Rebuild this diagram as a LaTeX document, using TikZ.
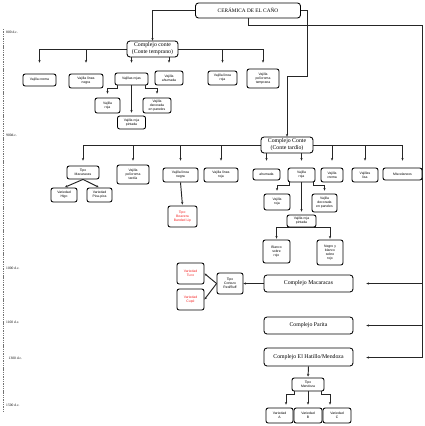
\documentclass[tikz,border=0pt]{standalone}
\usepackage{fontspec}
\setmainfont{Liberation Serif}
\newfontfamily\sansf{Liberation Sans}
\usetikzlibrary{arrows.meta,calc}
\pgfdeclarelayer{bg}
\pgfsetlayers{bg,main}
\definecolor{redtxt}{RGB}{245,35,35}
\begin{document}
\begin{tikzpicture}[x=1pt,y=-1pt,
  box/.style={draw=black, line width=0.85pt, rounded corners=2.2pt, fill=white, align=center,
    inner sep=0pt, font=\sansf\fontsize{3.4}{4.1}\selectfont, text=black},
  big/.style={box, rounded corners=3pt, font=\fontsize{5.8}{7}\selectfont, text=black},
  redbox/.style={box, text=redtxt},
  conn/.style={draw=black!85, line width=0.95pt},
  arr/.style={conn, -{Stealth[length=2.6pt,width=2.4pt]}},
  tl/.style={anchor=west, inner sep=0pt, font=\fontsize{3.6}{4}\selectfont}]
\useasboundingbox (0,0) rectangle (425,426);

% timeline
\coordinate (tlA) at (3.5,29);
\coordinate (tlB) at (3.5,411);
\draw[black!55, line width=1.6pt, dash pattern=on 1.4pt off 0.9pt] (tlA) -- (tlB);
\node[tl] (t1) at (6,32) {800 d.c.};
\node[tl] (t2) at (6,135) {900d.c.};
\node[tl] (t3) at (6,268) {1000 d.c.};
\node[tl] (t4) at (6,322) {1100 d.c.};
\node[tl] (t5) at (8.5,358) {1300 d.c.};
\node[tl] (t6) at (6,405) {1500 d.c.};

% main boxes
\node[big, minimum width=105, minimum height=15, font=\fontsize{5.3}{6}\selectfont] (top) at (248,10.5) {CERÁMICA DE EL CAÑO};
\node[big, minimum width=51, minimum height=16] (ct) at (152.5,49) {Complejo conte\\(Conte temprano)};
\node[big, minimum width=52, minimum height=16] (ctd) at (287,145) {Complejo Conte\\(Conte tardío)};
\node[big, minimum width=89, minimum height=17] (mac) at (308.5,283.5) {Complejo Macaracas};
\node[big, minimum width=89, minimum height=17] (par) at (308.5,325.5) {Complejo Parita};
\node[big, minimum width=89, minimum height=18] (hat) at (308.5,357) {Complejo El Hatillo/Mendoza};

% row 1
\node[box, minimum width=33, minimum height=12] (v1) at (39.5,80) {Vajilla crema};
\node[box, minimum width=34, minimum height=14] (v2) at (86,81) {Vajilla línea\\negra};
\node[box, minimum width=33, minimum height=12] (v3) at (131.5,79) {Vajillas rojas};
\node[box, minimum width=28, minimum height=14] (v4) at (169,78) {Vajilla\\ahumada};
\node[box, minimum width=29, minimum height=14] (v5) at (222.5,78) {Vajilla línea\\roja};
\node[box, minimum width=32, minimum height=19] (v6) at (263,78.5) {Vajilla\\polícroma\\temprana};
\node[box, minimum width=25, minimum height=15] (v3a) at (107.5,105.5) {Vajilla\\roja};
\node[box, minimum width=28, minimum height=13] (v3b) at (131.5,122.5) {Vajilla roja\\pintada};
\node[box, minimum width=28, minimum height=15] (v3c) at (157,105.5) {Vajilla\\decorada\\en paneles};

% row 2
\node[box, minimum width=32, minimum height=13] (w1) at (83,172.5) {Tipo\\Macaracas};
\node[box, minimum width=32, minimum height=19] (w2) at (133,174.5) {Vajilla\\polícroma\\tardía};
\node[box, minimum width=35, minimum height=14] (w3) at (180.5,175) {Vajilla línea\\negra};
\node[box, minimum width=34, minimum height=14] (w4) at (221,175) {Vajilla línea\\roja};
\node[box, minimum width=27, minimum height=11] (w5) at (266.5,174.5) {ahumada};
\node[box, minimum width=27, minimum height=14] (w6) at (301.5,175) {Vajilla\\roja};
\node[box, minimum width=22, minimum height=14] (w7) at (332,175) {Vajilla\\crema};
\node[box, minimum width=26, minimum height=14] (w8) at (365,175) {Vajillas\\lisa};
\node[box, minimum width=39, minimum height=12] (w9) at (402.5,174) {Miscelaneos};
\node[box, minimum width=26, minimum height=14] (h1) at (64,195) {Variedad\\Higo};
\node[box, minimum width=25, minimum height=14] (h2) at (99.5,195) {Variedad\\Pica-pica};
\node[redbox, minimum width=29, minimum height=21] (bv) at (182.5,216.5) {Tipo:\\Beavera\\Banded Lip};
\node[box, minimum width=26, minimum height=16] (x1) at (277,202) {Vajilla\\roja};
\node[box, minimum width=29, minimum height=12] (x2) at (301.5,221) {Vajilla roja\\pintada};
\node[box, minimum width=25, minimum height=18] (x3) at (324.5,203) {Vajilla\\decorada\\en paneles};
\node[box, minimum width=27, minimum height=23] (y1) at (276.5,251.5) {Blanco\\sobre\\rojo};
\node[box, minimum width=26, minimum height=25] (y2) at (330,252.5) {Negro y\\blanco\\sobre\\rojo};

% bottom
\node[box, minimum width=26, minimum height=21] (tc) at (230,283.5) {Tipo\\Cortezo\\Red/Buff};
\node[redbox, minimum width=27, minimum height=21] (tu) at (190.5,273.5) {Variedad\\Tuco};
\node[redbox, minimum width=27, minimum height=21] (cu) at (190.5,299.5) {Variedad\\Cupé};
\node[box, minimum width=32, minimum height=13] (tm) at (308,384.5) {Tipo\\Mendoza};
\node[box, minimum width=27, minimum height=15] (va) at (279.5,415.5) {Variedad\\A};
\node[box, minimum width=28, minimum height=15] (vb) at (308,415.5) {Variedad\\B};
\node[box, minimum width=28, minimum height=15] (vc) at (337,415.5) {Variedad\\C};

\coordinate (k1) at (307,76);
\coordinate (rt) at (422,25);
\coordinate (macE) at ($(mac.east)+(13,0)$);
\coordinate (parE) at ($(par.east)+(13,0)$);
\coordinate (hatE) at ($(hat.east)+(13,0.5)$);

\begin{pgfonlayer}{bg}
\draw[arr] (top.west) -| (ct.north);
\draw[arr] (top.east) -| (k1) -| (ctd.north);
\draw[arr] (top.south) |- (rt) |- (hatE);
\draw[arr] (rt |- macE) -- (macE);
\draw[arr] (rt |- parE) -- (parE);

\draw[arr, shorten >=11pt] (ct.west) -| (v1.north);
\draw[arr, shorten >=11pt] (ct.west) -| (v2.north);
\draw[arr, shorten >=10pt] (v3.north |- ct.center) -- (v3.north);
\draw[arr, shorten >=8pt] (v4.north |- ct.center) -- (v4.north);
\draw[arr, shorten >=8pt] (ct.east) -| (v5.north);
\draw[arr, shorten >=6pt] (ct.east) -| (v6.north);
\draw[arr, shorten >=4pt] ([xshift=3pt]v3.south west) -- ++(0,3) -| (v3a.north);
\draw[arr, shorten >=3pt] (v3.south) -- (v3b.north);
\draw[arr, shorten >=4pt] ([xshift=-3pt]v3.south east) -- ++(0,3) -| (v3c.north);

\draw[arr, shorten >=5pt] (ctd.west) -| (w1.north);
\draw[arr, shorten >=4pt] (ctd.west) -| (w2.north);
\draw[arr, shorten >=7pt] (ctd.west) -| (w3.north);
\draw[arr, shorten >=7pt] (ctd.west) -| (w4.north);
\draw[arr, shorten >=8pt] (w5.north |- ctd.center) -- (w5.north);
\draw[arr, shorten >=7pt] (w6.north |- ctd.center) -- (w6.north);
\draw[arr, shorten >=7pt] (ctd.east) -| (w7.north);
\draw[arr, shorten >=7pt] (ctd.east) -| (w8.north);
\draw[arr, shorten >=7pt] (ctd.east) -| (w9.north);

\draw[arr, shorten >=1pt] (w1.south) -- (h1.north);
\draw[arr, shorten >=1pt] (w1.south) -- (h2.north);
\draw[arr, shorten >=1pt] (w3.south) -- (bv.north);
\draw[arr, shorten >=3pt] ([xshift=2pt]w6.south west) -- ++(0,3) -| (x1.north);
\draw[arr, shorten >=3pt] (w6.south) -- (x2.north);
\draw[arr, shorten >=3pt] ([xshift=-2pt]w6.south east) -- ++(0,3) -| (x3.north);
\draw[arr, shorten >=1pt] (x2.south) -| (y1.north);
\draw[arr, shorten >=1pt] (x2.south) -| (y2.north);

\draw[arr] (mac.west) -- (tc.east);
\draw[arr] (tc.west) -- (tu.east);
\draw[arr] (tc.west) -- (cu.east);
\draw[arr, shorten >=1pt] (hat.south) -- (tm.north);
\draw[arr, shorten >=3pt] ([xshift=3pt]tm.south west) -- ++(0,3) -| ([xshift=6.5pt]va.north);
\draw[arr, shorten >=3pt] (tm.south) -- (vb.north);
\draw[arr, shorten >=3pt] ([xshift=-3pt]tm.south east) -- ++(0,3) -| ([xshift=-7pt]vc.north);
\end{pgfonlayer}
\end{tikzpicture}
\end{document}
